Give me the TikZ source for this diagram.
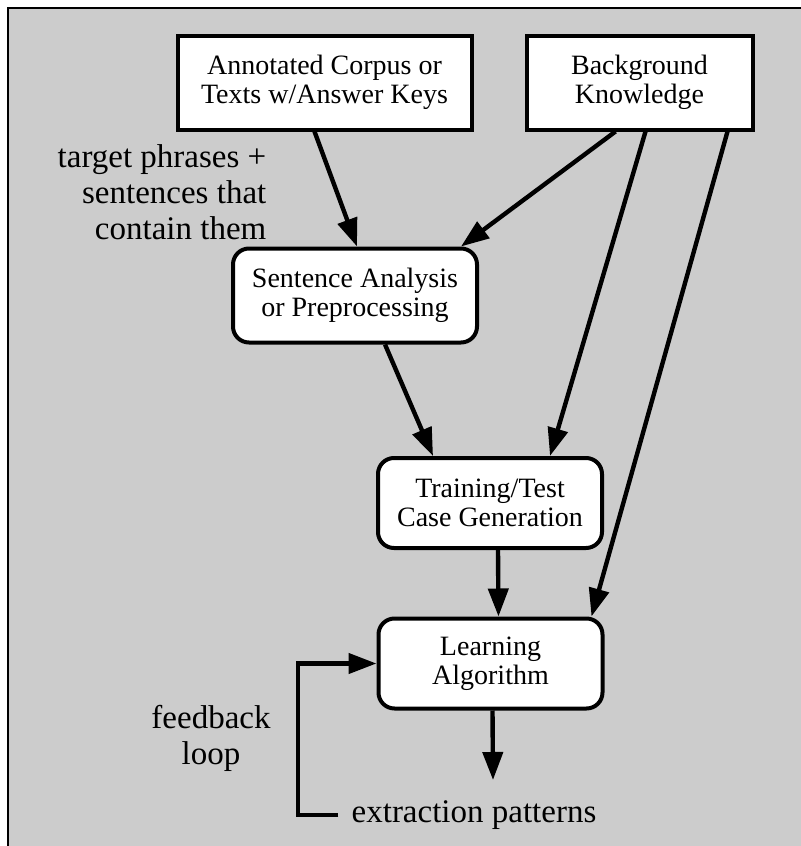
\documentclass[tikz,border=0pt]{standalone}
\usepackage{fontspec}
\setmainfont{Liberation Serif}
\usetikzlibrary{arrows.meta}
\definecolor{panelgray}{HTML}{CCCCCC}

\begin{document}
\begin{tikzpicture}[x=0.5pt,y=-0.5pt,
        box/.style={draw,line width=2pt,fill=white,align=center,inner sep=2pt,font=\fontsize{14}{14.5}\selectfont},
        rbox/.style={box,rounded corners=8pt},
        arr/.style={line width=2.2pt,-{Triangle[length=14pt,width=10pt]}},
        lbl/.style={inner sep=2pt,font=\fontsize{16.5}{18}\selectfont}]
        \useasboundingbox (0,0) rectangle (801,846);
        \fill[panelgray] (8,8) rectangle (801,846);
        \draw[line width=1pt] (8,846) -- (8,8) -- (801,8);
        % sources
        \node[box,minimum width=147pt,minimum height=47pt] (corpus) at (324.5,82.5) {Annotated Corpus or\\Texts w/Answer Keys};
        \node[box,minimum width=113pt,minimum height=47pt] (knowledge) at (639.5,82.5) {Background\\Knowledge};
        % processing steps
        \node[rbox,minimum width=122pt,minimum height=47pt] (analysis) at (355,295.5) {Sentence Analysis\\or Preprocessing};
        \node[rbox,minimum width=112pt,minimum height=45pt] (cases) at (490,503) {Training/Test\\Case Generation};
        \node[rbox,minimum width=112pt,minimum height=45pt] (learner) at (490.5,663.5) {Learning\\Algorithm};
        % labels
        \node[lbl,align=right] (targetlbl) at (162,192) {target phrases +\\sentences that\\contain them};
        \node[lbl,align=center] (feedbacklbl) at (211,738) {feedback\\loop};
        \node[lbl] (patterns) at (474,815) {extraction patterns};
        \coordinate (patternsin) at (493,780);
        % connectors
        \draw[arr] ([xshift=-5pt]corpus.south) -- ([xshift=1pt]analysis.north);
        \draw[arr] ([xshift=-12pt]knowledge.south) -- ([xshift=-9pt]analysis.north east);
        \draw[arr] ([xshift=3pt]knowledge.south) -- ([xshift=30pt]cases.north);
        \draw[arr] ([xshift=44pt]knowledge.south) -- ([xshift=-6.5pt]learner.north east);
        \draw[arr] ([xshift=15pt]analysis.south) -- ([xshift=-28.5pt]cases.north);
        \draw[arr] ([xshift=4pt]cases.south) -- ([xshift=4pt]learner.north);
        \draw[arr] ([xshift=1pt]learner.south) -- (patternsin);
        \draw[arr] ([xshift=-4.5pt]patterns.west) -- ++(-40,0) |- (learner.west);
    \end{tikzpicture}
\end{document}
